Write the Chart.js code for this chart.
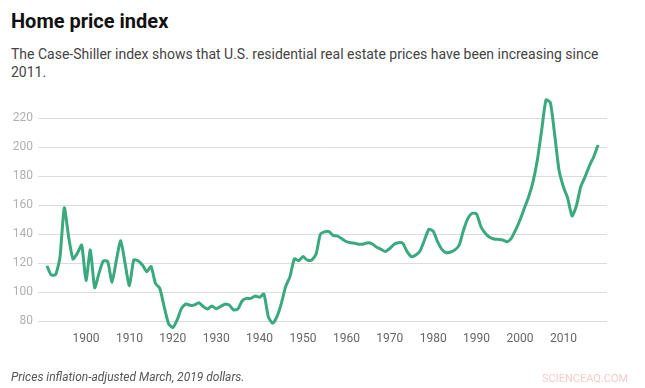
<!DOCTYPE html>
<html>
<head>
<meta charset="utf-8">
<script src="https://cdn.jsdelivr.net/npm/chart.js@4/dist/chart.umd.min.js"></script>
<style>
  html, body { margin: 0; padding: 0; background: #fff; }
  body { width: 645px; height: 388px; position: relative; overflow: hidden; font-family: Roboto, "Noto Sans", sans-serif; }
  #title { position: absolute; left: 11px; top: 9px; font-size: 20px; font-weight: 700; color: #111; }
  #sub { position: absolute; left: 11px; top: 45px; width: 620px; font-size: 14px; line-height: 18px; color: #444; }
  #foot { position: absolute; left: 11px; top: 370px; font-size: 12px; font-style: italic; color: #555; }
  #wm { position: absolute; left: 542px; top: 372px; font-size: 11px; color: #f5cccc; letter-spacing: 0px; }
  #c { position: absolute; left: 0; top: 0; }
</style>
</head>
<body>
<div id="title">Home price index</div>
<div id="sub">The Case-Shiller index shows that U.S. residential real estate prices have been increasing since 2011.</div>
<canvas id="c" width="645" height="388"></canvas>
<div id="foot">Prices inflation-adjusted March, 2019 dollars.</div>
<div id="wm">SCIENCEAQ.COM</div>
<script>
const firstYear = 1891;
const indexValues = [
  118, 111.7, 112, 124, 158, 138, 122.8, 126.7, 132.4,
  108, 129, 103, 113, 121.4, 121, 106.7, 122, 135.4, 119.8,
  104.4, 122, 121.6, 118.6, 114, 117.5, 106, 102.5, 90, 78.4,
  75.4, 80.7, 88.7, 91.7, 90.8, 91, 92.6, 90, 88.3, 90.3,
  88.5, 90, 91.5, 91, 87.6, 88.3, 94, 95.6, 95.6, 97.2,
  96.3, 98.6, 83, 78.4, 83, 92, 103.7, 110.6, 122.8, 121.6,
  124.4, 122, 122, 126, 139.8, 141.5, 141.6, 138.9, 138.6, 136.6,
  134.7, 134, 133.6, 132.9, 133.1, 134, 133.1, 130.8, 129.4, 128,
  130, 132.9, 134, 133.6, 127.8, 124.4, 125.5, 128.5, 135.9, 143.2,
  142, 134.7, 129.4, 127.1, 127.6, 129, 132.4, 142.8, 150.8, 154.3,
  153.8, 145, 140.5, 137.7, 136.6, 136.3, 135.9, 134.7, 137, 142.8,
  149.7, 157.7, 165.7, 176, 191, 211.7, 232.4, 230.6, 208.3, 184,
  172.6, 164.6, 152.4, 159.5, 172.6, 179.5, 187, 193.3, 201.4
];
const yTickValues = [80, 100, 120, 140, 160, 180, 200, 220];
const xTickValues = [1900, 1910, 1920, 1930, 1940, 1950, 1960, 1970, 1980, 1990, 2000, 2010];

const points = indexValues.map((v, i) => ({ x: firstYear + i, y: v }));

new Chart(document.getElementById('c'), {
  type: 'line',
  data: {
    datasets: [{
      data: points,
      borderColor: '#3ba97e',
      borderWidth: 3,
      pointRadius: 0,
      tension: 0.2,
      fill: false
    }]
  },
  options: {
    responsive: false,
    animation: false,
    devicePixelRatio: 1,
    layout: { padding: { left: 0, right: 38, top: 97.7, bottom: 38.3 } },
    plugins: { legend: { display: false }, tooltip: { enabled: false } },
    scales: {
      x: {
        type: 'linear',
        min: 1888.94,
        max: 2020.05,
        afterBuildTicks: s => { s.ticks = xTickValues.map(v => ({ value: v })); },
        afterFit: s => { s.height = 20; },
        grid: { display: false, drawTicks: false },
        border: { display: false },
        ticks: {
          callback: v => String(v),
          color: '#666',
          padding: 2,
          maxRotation: 0,
          autoSkip: false,
          font: { family: 'Roboto', size: 12 }
        }
      },
      y: {
        min: 74,
        max: 234,
        afterBuildTicks: s => { s.ticks = yTickValues.map(v => ({ value: v })); },
        afterFit: s => { s.width = 38; },
        grid: { color: '#dcdcdc', lineWidth: 1, drawTicks: false },
        border: { display: false },
        ticks: {
          color: '#b0b0b0',
          padding: 5,
          font: { family: 'Roboto', size: 12 }
        }
      }
    }
  }
});
</script>
</body>
</html>
